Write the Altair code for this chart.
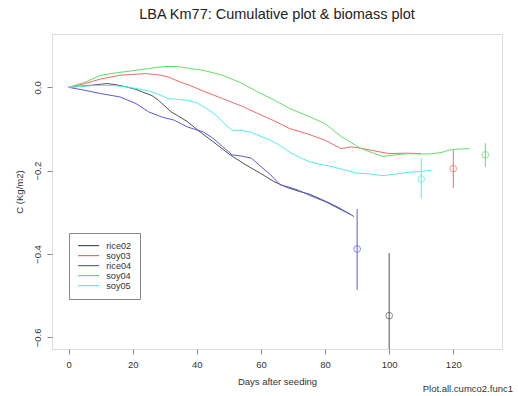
import altair as alt
import pandas as pd

# ---- data ----
soy04_days = [0,5,10,15,21,26,30,34,38,42,48,54,59,64,69,75,80,85,88,91,95,98,102,106,110,114,117,119,122,125]
soy04_vals = [0,0.012,0.029,0.035,0.041,0.046,0.050,0.050,0.045,0.041,0.029,0.010,-0.011,-0.030,-0.051,-0.070,-0.087,-0.118,-0.132,-0.146,-0.158,-0.166,-0.162,-0.159,-0.160,-0.159,-0.155,-0.150,-0.148,-0.147]

soy03_days = [0,5,10,16,20,24,28,31,35,38,42,48,54,59,64,69,75,80,85,88,91,95,100,105,110]
soy03_vals = [0,0.009,0.020,0.029,0.031,0.033,0.030,0.025,0.012,0.004,-0.009,-0.027,-0.045,-0.063,-0.080,-0.099,-0.113,-0.127,-0.147,-0.143,-0.146,-0.152,-0.159,-0.158,-0.159]

soy05_days = [0,5,10,14,18,22,26,29,31,34,37,40,43,46,49,51,54,57,60,63,66,69,72,75,78,82,86,90,94,98,102,106,110,113]
soy05_vals = [0,0.003,0.005,0.004,0.001,-0.004,-0.011,-0.020,-0.027,-0.029,-0.031,-0.037,-0.051,-0.067,-0.090,-0.103,-0.103,-0.108,-0.118,-0.127,-0.140,-0.156,-0.168,-0.178,-0.184,-0.190,-0.198,-0.206,-0.208,-0.212,-0.208,-0.204,-0.202,-0.199]

rice02_days = [0,4,7,12,15,18,21,23,26,28,30,32,34,37,41,45,50,55,60,64,68,72,75,78,82,85,89]
rice02_vals = [0,0.003,0.005,0.009,0.006,0.001,-0.005,-0.011,-0.020,-0.031,-0.045,-0.059,-0.068,-0.082,-0.107,-0.130,-0.160,-0.185,-0.207,-0.226,-0.240,-0.250,-0.256,-0.266,-0.280,-0.292,-0.310]

rice04_days = [0,5,10,16,21,25,29,33,37,42,45,48,51,54,57,60,63,66,69,72,76,80,84,88]
rice04_vals = [0,-0.007,-0.015,-0.023,-0.039,-0.059,-0.071,-0.079,-0.095,-0.107,-0.122,-0.142,-0.162,-0.165,-0.170,-0.190,-0.210,-0.234,-0.240,-0.248,-0.262,-0.274,-0.290,-0.305]

series_names = ["rice02", "soy03", "rice04", "soy04", "soy05"]
series_colors = ["#505050", "#f06a6a", "#5a5ae0", "#60e060", "#50eeee"]

bio_series = ["rice02", "rice04", "soy05", "soy03", "soy04"]
bio_days = [100, 90, 110, 120, 130]
bio_mean = [-0.548, -0.388, -0.220, -0.195, -0.162]
bio_low = [-0.70, -0.486, -0.266, -0.242, -0.191]
bio_high = [-0.398, -0.292, -0.170, -0.151, -0.134]

x_ticks = [0, 20, 40, 60, 80, 100, 120]
y_ticks = [0.0, -0.2, -0.4, -0.6]

# ---- tables ----
rows = []
for name, d, v in [("rice02", rice02_days, rice02_vals), ("soy03", soy03_days, soy03_vals),
                   ("rice04", rice04_days, rice04_vals), ("soy04", soy04_days, soy04_vals),
                   ("soy05", soy05_days, soy05_vals)]:
    for i, (dd, vv) in enumerate(zip(d, v)):
        rows.append({"series": name, "day": dd, "C": vv, "order": i})
lines_df = pd.DataFrame(rows)
bio_df = pd.DataFrame({"series": bio_series, "day": bio_days, "mean": bio_mean,
                       "low": bio_low, "high": bio_high})

FONT = "Liberation Sans"
xscale = alt.Scale(domain=[-5.2, 135.2], nice=False, zero=False)
yscale = alt.Scale(domain=[-0.628, 0.128], nice=False, zero=False)
cscale = alt.Scale(domain=series_names, range=series_colors)
color = alt.Color("series:N", scale=cscale,
                  legend=alt.Legend(title=None, orient="none", legendX=17, legendY=199,
                                    symbolType="M-3,0L3,0", symbolSize=49, symbolStrokeWidth=1.2,
                                    labelFont=FONT, labelFontSize=9.2, labelColor="#333",
                                    rowPadding=-1.5, padding=8, strokeColor="#888",
                                    fillColor="white", labelOffset=13, symbolOffset=7,
                                    labelLimit=100))

xaxis = alt.Axis(values=x_ticks, title="Days after seeding", grid=False, domain=False,
                 tickColor="#888", tickSize=5, labelFont=FONT, labelFontSize=9.5,
                 labelColor="#333", labelPadding=5, titleFont=FONT, titleFontSize=9.5,
                 titleFontWeight="normal", titleColor="#333", titlePadding=8)
yaxis = alt.Axis(values=y_ticks, format=".1f", title="C (Kg/m2)", grid=False, domain=False,
                 tickColor="#888", tickSize=5, labelFont=FONT, labelFontSize=9.5,
                 labelColor="#333", labelAngle=270, labelAlign="center", labelBaseline="bottom",
                 labelPadding=5, titleFont=FONT, titleFontSize=9.5, titleFontWeight="normal",
                 titleColor="#333", titlePadding=8)

lines = alt.Chart(lines_df).mark_line(strokeWidth=1).encode(
    x=alt.X("day:Q", scale=xscale, axis=xaxis),
    y=alt.Y("C:Q", scale=yscale, axis=yaxis),
    color=color,
    order="order:Q",
)

bars = alt.Chart(bio_df).mark_rule(strokeWidth=1, clip=True).encode(
    x="day:Q", y="low:Q", y2="high:Q",
    color=alt.Color("series:N", scale=cscale, legend=None),
)
pts = alt.Chart(bio_df).mark_point(shape="circle", size=45, filled=False, strokeWidth=1).encode(
    x="day:Q", y="mean:Q",
    color=alt.Color("series:N", scale=cscale, legend=None),
)

foot = alt.Chart(pd.DataFrame({"t": ["Plot.all.cumco2.func1"]})).mark_text(
    font=FONT, fontSize=9.5, color="#333", align="right", baseline="middle"
).encode(x=alt.value(461), y=alt.value(355), text="t:N")

chart = alt.layer(lines, bars, pts, foot).properties(
    width=450, height=315,
    title=alt.TitleParams("LBA Km77: Cumulative plot & biomass plot", font=FONT, fontSize=14.5,
                          fontWeight="normal", color="#222", anchor="middle", offset=12),
    autosize=alt.AutoSizeParams(type="none"),
    padding={"left": 52, "top": 34, "right": 16, "bottom": 47},
).configure_view(stroke="#999", strokeWidth=1).configure(background="white")

chart.save("out.html", embed_options={"renderer": "svg", "actions": False})
